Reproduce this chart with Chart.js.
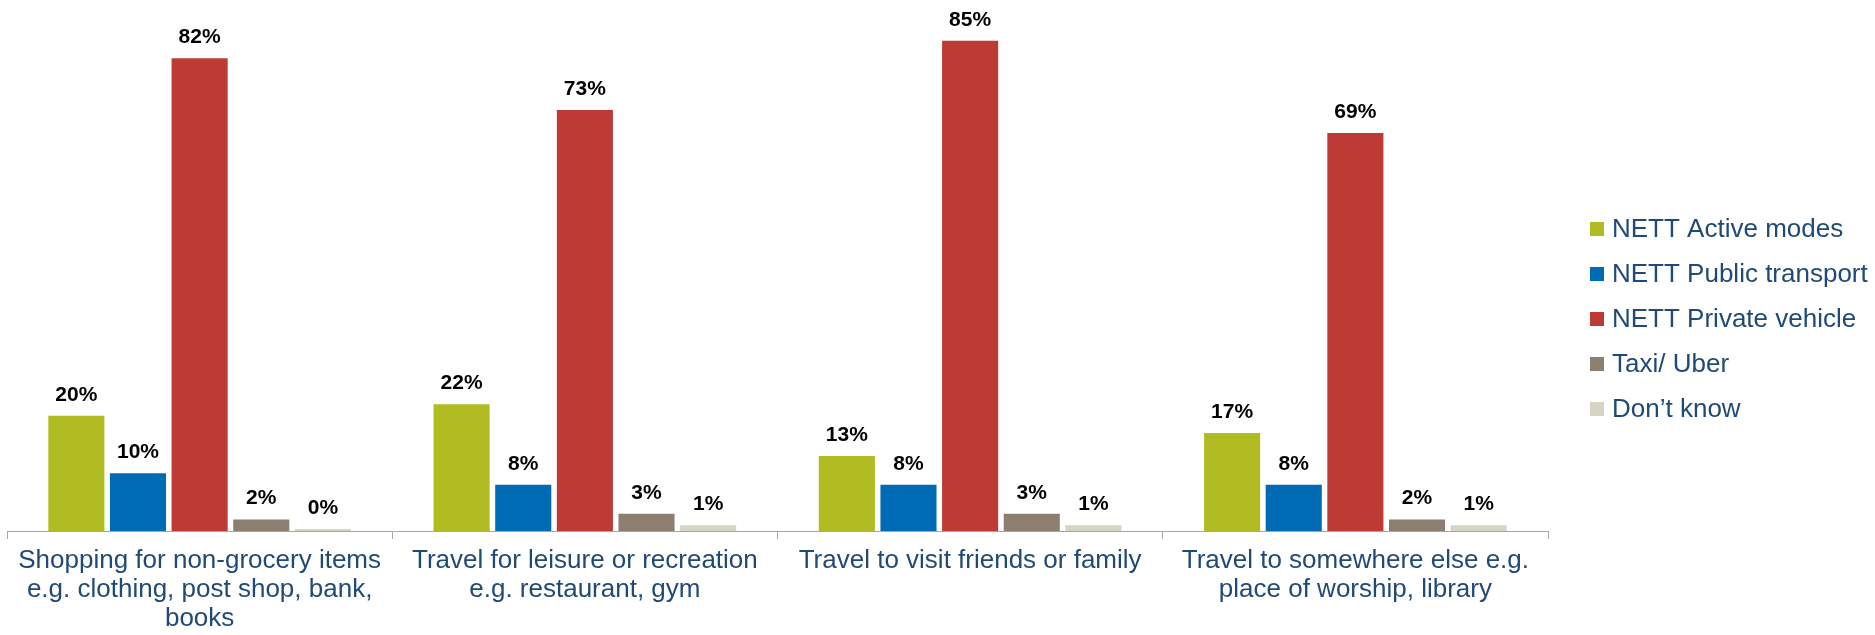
<!DOCTYPE html>
<html>
<head>
<meta charset="utf-8">
<script src="https://cdn.jsdelivr.net/npm/chart.js@4"></script>
<style>
  body { margin: 0; background: #fff; }
  #wrap { width: 1875px; height: 635px; position: relative; }
</style>
</head>
<body>
<div id="wrap"><canvas id="graficoBarras"></canvas></div>
<script>
const categorias = [
  ["Shopping for non-grocery items", "e.g. clothing, post shop, bank,", "books"],
  ["Travel for leisure or recreation", "e.g. restaurant, gym"],
  "Travel to visit friends or family",
  ["Travel to somewhere else e.g.", "place of worship, library"]
];
const series = ["NETT Active modes", "NETT Public transport", "NETT Private vehicle", "Taxi/ Uber", "Don\u2019t know"];
const activos = [20, 22, 13, 17];
const publico = [10, 8, 8, 8];
const privado = [82, 73, 85, 69];
const taxi = [2, 3, 3, 2];
const noSabe = [0, 1, 1, 1];
const colores = ["#B0BC22", "#006BB5", "#BE3A35", "#8D7F6F", "#D6D5C4"];

const azulTexto = "#1F4A78";
const fuente = "'Liberation Sans', Arial, sans-serif";

// etiquetas de porcentaje encima de cada barra
const etiquetasValor = {
  id: "etiquetasValor",
  afterDatasetsDraw(chart) {
    const ctx = chart.ctx;
    ctx.save();
    ctx.font = "bold 21px " + fuente;
    ctx.fillStyle = "#000";
    ctx.textAlign = "center";
    ctx.textBaseline = "alphabetic";
    chart.data.datasets.forEach((ds, i) => {
      chart.getDatasetMeta(i).data.forEach((bar, j) => {
        ctx.fillText(ds.data[j] + "%", bar.x, bar.y - 15);
      });
    });
    ctx.restore();
  }
};

// leyenda a la derecha, centrada en el alto del lienzo
const leyenda = {
  id: "leyenda",
  afterDraw(chart) {
    const ctx = chart.ctx;
    const x = 1590, y0 = 229, paso = 45;
    ctx.save();
    ctx.font = "26px " + fuente;
    ctx.textBaseline = "middle";
    ctx.textAlign = "left";
    chart.data.datasets.forEach((ds, i) => {
      const y = y0 + i * paso;
      ctx.fillStyle = ds.backgroundColor;
      ctx.fillRect(x, y - 7, 14, 14);
      ctx.fillStyle = azulTexto;
      ctx.fillText(ds.label, x + 22, y + 1);
    });
    ctx.restore();
  }
};

const valores = [activos, publico, privado, taxi, noSabe];

new Chart(document.getElementById("graficoBarras"), {
  type: "bar",
  data: {
    labels: categorias,
    datasets: series.map((nombre, i) => ({
      label: nombre,
      data: valores[i],
      backgroundColor: colores[i],
      borderWidth: 0,
      minBarLength: 2,
      categoryPercentage: 0.8,
      barPercentage: 0.91
    }))
  },
  options: {
    responsive: true,
    maintainAspectRatio: false,
    animation: false,
    layout: { padding: { left: 7, right: 327, top: 12, bottom: 0 } },
    plugins: {
      legend: { display: false },
      tooltip: { enabled: false }
    },
    scales: {
      y: {
        display: false,
        min: 0,
        max: 90
      },
      x: {
        afterFit(escala) { escala.height = 104; },
        grid: {
          display: true,
          drawOnChartArea: false,
          drawTicks: true,
          tickLength: 8,
          offset: true,
          color: "#A6A6A6"
        },
        border: { display: true, color: "#A6A6A6", width: 1 },
        ticks: {
          autoSkip: false,
          maxRotation: 0,
          minRotation: 0,
          padding: 8,
          color: azulTexto,
          font: { family: fuente, size: 26, lineHeight: 1.1 }
        }
      }
    }
  },
  plugins: [etiquetasValor, leyenda]
});
</script>
</body>
</html>
